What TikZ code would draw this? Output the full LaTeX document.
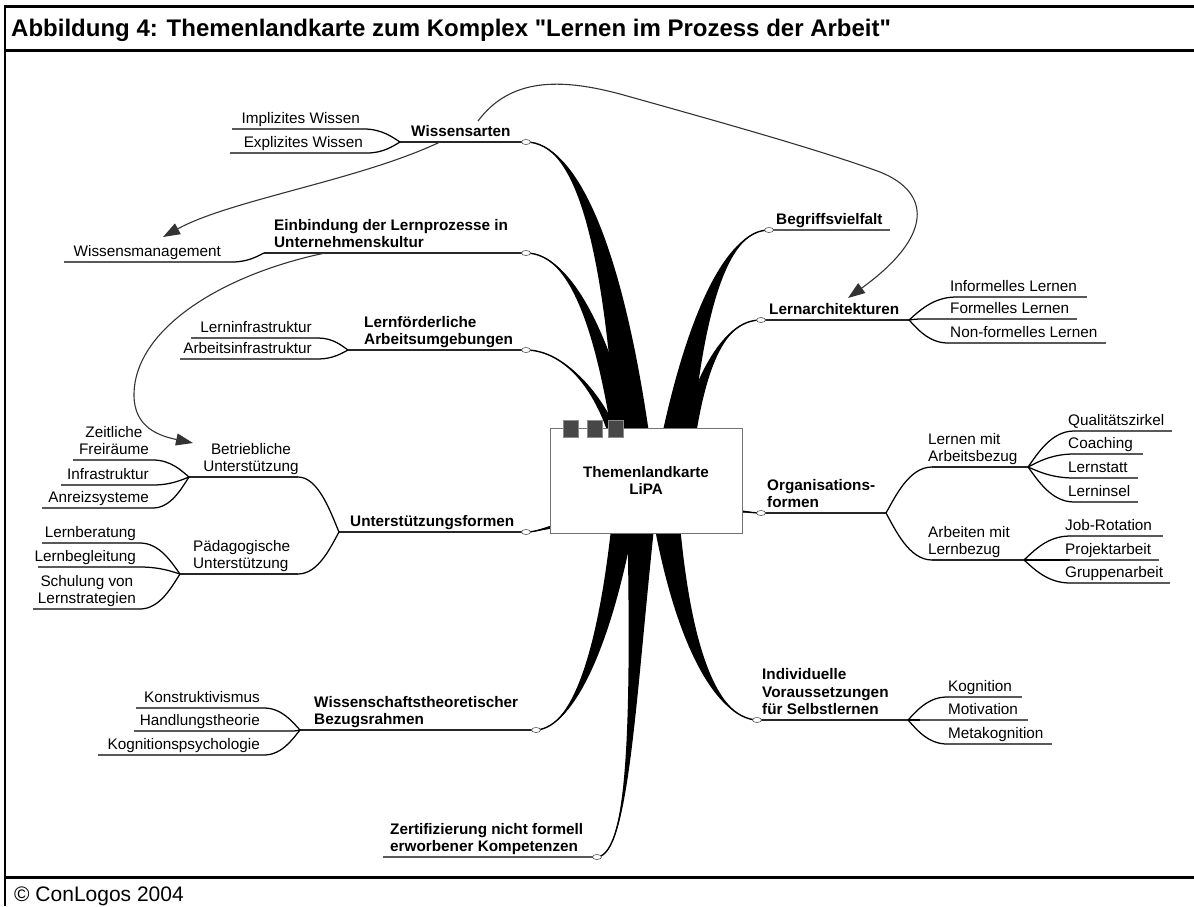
\documentclass[tikz,border=0pt]{standalone}
\usepackage{fontspec}
\setmainfont{Liberation Sans}
\usetikzlibrary{calc,arrows.meta,shapes.geometric}

\tikzset{
  lbl/.style={inner sep=0pt, align=center, text depth=3.3pt, font=\fontsize{15.3}{17.5}\selectfont},
  mlbl/.style={lbl, align=left, font=\bfseries\fontsize{15.3}{17.5}\selectfont},
  subline/.style={line width=1.8pt, black!65},
  mainline/.style={line width=1.3pt, black!85},
  lk/.style={line width=1.25pt, black},
  mk/.style={ellipse, draw=black!70, fill=white, line width=0.6pt, minimum width=9pt, minimum height=5pt, inner sep=0pt},
  ar/.style={line width=1.1pt, black!80, -{Triangle[length=17pt,width=12pt]}},
  br/.style={fill=black},
  frameline/.style={line width=3pt, black}
}

% tapered main branch: marker, c1, c2, root, half-width at root, half-width at c2
\newcommand\mbr[6]{%
  \fill[br] (#1) .. controls (#2) and ($(#3)+(#6)$) .. ($(#4)+(#5)$) -- ($(#4)-(#5)$) .. controls ($(#3)-(#6)$) and (#2) .. (#1) -- cycle;
  \draw[line width=1.4pt] (#1) .. controls (#2) and (#3) .. (#4);}

% curve from a child end (horizontal) to a fork
\newcommand\lnk[2]{\draw[lk] let \p1=(#1), \p2=(#2) in (\p1) .. controls ({0.5*\x1+0.5*\x2},\y1) and ({0.2*\x1+0.8*\x2},{0.35*\y1+0.65*\y2}) .. (\p2);}

% left-side leaf: [text offset]{name}{text}{xL}{xR}{y}
\newcommand\leafL[6][4]{%
  \coordinate (#2a) at (#4,#6); \coordinate (#2b) at (#5,#6);
  \draw[subline] (#2a) -- (#2b);
  \node[lbl, anchor=south east] (#2) at ($(#2b)+(-#1,-2)$) {#3};}

% right-side leaf: [text offset]{name}{text}{xL}{xR}{y}
\newcommand\leafR[6][-3]{%
  \coordinate (#2a) at (#4,#6); \coordinate (#2b) at (#5,#6);
  \draw[subline] (#2a) -- (#2b);
  \node[lbl, anchor=south west] (#2) at ($(#2a)+(#1,-2)$) {#3};}

\begin{document}
\begin{tikzpicture}[x=1pt,y=-1pt]
\useasboundingbox (0,0) rectangle (1194,906);

% ---------- frame ----------
\draw[frameline] (5,6) -- (1194,6);
\draw[frameline] (5,50.5) -- (1194,50.5);
\draw[frameline] (5,877) -- (1194,877);
\draw[line width=2pt] (5,5) -- (5,906);
\node[anchor=base west, inner sep=0pt, font=\bfseries\fontsize{24}{28}\selectfont] (title) at (11,36)
  {Abbildung 4: Themenlandkarte zum Komplex \textquotedbl Lernen im Prozess der Arbeit\textquotedbl};
\node[anchor=base west, inner sep=0pt, font=\fontsize{21}{25}\selectfont] (copy) at (14,901) {© ConLogos 2004};

% ---------- marker positions ----------
\coordinate (mWiss) at (526,142);
\coordinate (mEinb) at (526,253);
\coordinate (mLern) at (526,350);
\coordinate (mUnt)  at (526,532);
\coordinate (mWth)  at (536,730);
\coordinate (mZert) at (597,857);
\coordinate (mBeg)  at (769,230);
\coordinate (mArch) at (761,320);
\coordinate (mOrg)  at (761,513);
\coordinate (mInd)  at (757,720);

% ---------- main tapered branches ----------
\mbr{mWiss}{575,142}{615,240}{636,470}{18,0}{10,0}
\mbr{mEinb}{570,253}{605,330}{630,470}{13,0}{7,0}
\mbr{mLern}{565,350}{605,395}{622,460}{7,0}{3,0}
\mbr{mBeg}{725,230}{692,320}{672,470}{17,0}{9,0}
\mbr{mArch}{720,320}{697,380}{680,470}{11,0}{5,0}
\mbr{mWth}{575,728}{608,640}{626,500}{12,0}{7,0}
\mbr{mZert}{630,855}{633,700}{642,500}{15,0}{2,0}
\mbr{mInd}{715,718}{680,640}{664,500}{14,0}{8,0}
\mbr{mUnt}{538,532}{545,527}{565,525}{0,2.5}{0,1.5}
\mbr{mOrg}{752,513}{745,511}{730,511}{0,2}{0,1}

% ---------- central box ----------
\node[draw=black!55, fill=white, line width=1pt, minimum width=192pt, minimum height=105pt,
      align=center, font=\bfseries\fontsize{15.2}{17.5}\selectfont] (ctr) at (646,480.5) {Themenlandkarte\\LiPA};
\foreach \x/\n in {570.5/1,594.5/2,616/3}
  \node[draw=black!45, fill=black!72, minimum width=15pt, minimum height=17pt, inner sep=0pt] (sq\n) at (\x,428.5) {};

% ---------- Wissensarten ----------
\coordinate (fWiss) at (400,142);
\draw[mainline] (fWiss) -- (mWiss);
\node[mlbl, anchor=south west] (wiss) at (411,140) {Wissensarten};
\leafL{impl}{Implizites Wissen}{232}{364}{129}
\leafL{expl}{Explizites Wissen}{230}{367}{153}
\lnk{implb}{fWiss}
\lnk{explb}{fWiss}

% ---------- Einbindung ----------
\coordinate (fEinb) at (264,253);
\draw[mainline] (fEinb) -- (mEinb);
\node[mlbl, anchor=south west] (einb) at (274,251) {Einbindung der Lernprozesse in\\Unternehmenskultur};
\leafL[11]{wm}{Wissensmanagement}{64}{232}{262}
\lnk{wmb}{fEinb}

% ---------- Lernfoerderliche ----------
\coordinate (fLern) at (348,350);
\draw[mainline] (fLern) -- (mLern);
\node[mlbl, anchor=south west] (lern) at (364,348) {Lernförderliche\\Arbeitsumgebungen};
\leafL[6]{linf}{Lerninfrastruktur}{191}{318}{338}
\leafL[6]{ainf}{Arbeitsinfrastruktur}{180}{318}{359}
\lnk{linfb}{fLern}
\lnk{ainfb}{fLern}

% ---------- Unterstuetzungsformen ----------
\coordinate (fUnt) at (339,532);
\draw[mainline] (fUnt) -- (mUnt);
\node[mlbl, anchor=south west] (unt) at (350,530) {Unterstützungsformen};

\coordinate (fBet) at (189,477); \coordinate (eBet) at (298,477);
\draw[mainline] (fBet) -- (eBet);
\lnk{eBet}{fUnt}
\node[lbl, anchor=south] (bet) at (251,475) {Betriebliche\\Unterstützung};
\leafL{zeit}{Zeitliche\\Freiräume}{73}{153}{460}
\leafL{infra}{Infrastruktur}{61}{153}{485}
\leafL{anr}{Anreizsysteme}{42}{153}{508}
\lnk{zeitb}{fBet}
\lnk{infrab}{fBet}
\lnk{anrb}{fBet}

\coordinate (fPad) at (180,574); \coordinate (ePad) at (298,574);
\draw[mainline] (fPad) -- (ePad);
\lnk{ePad}{fUnt}
\node[lbl, align=left, anchor=south west] (pad) at (193,572) {Pädagogische\\Unterstützung};
\leafL{lb}{Lernberatung}{42}{140}{543}
\leafL{lbg}{Lernbegleitung}{38}{140}{567}
\leafL{sch}{Schulung von\\Lernstrategien}{33}{140}{609}
\lnk{lbb}{fPad}
\lnk{lbgb}{fPad}
\lnk{schb}{fPad}

% ---------- Wissenschaftstheoretischer Bezugsrahmen ----------
\coordinate (fWth) at (300,730);
\draw[mainline] (fWth) -- (mWth);
\node[mlbl, anchor=south west] (wth) at (314,728) {Wissenschaftstheoretischer\\Bezugsrahmen};
\leafL{kon}{Konstruktivismus}{136}{264}{708}
\leafL[32]{hand}{Handlungstheorie}{134}{292}{731}
\leafL{kog}{Kognitionspsychologie}{98}{264}{755}
\lnk{konb}{fWth}
\lnk{handb}{fWth}
\lnk{kogb}{fWth}

% ---------- Zertifizierung ----------
\coordinate (zA) at (383,857);
\draw[subline] (zA) -- (mZert);
\node[mlbl, anchor=south west] (zert) at (390,855) {Zertifizierung nicht formell\\erworbener Kompetenzen};

% ---------- Begriffsvielfalt ----------
\coordinate (bE) at (890,230);
\draw[subline] (mBeg) -- (bE);
\node[mlbl, anchor=south west] (beg) at (776,228) {Begriffsvielfalt};

% ---------- Lernarchitekturen ----------
\coordinate (fArch) at (909,320);
\draw[mainline] (mArch) -- (fArch);
\node[mlbl, anchor=south west] (arch) at (769,318) {Lernarchitekturen};
\leafR[-6]{inf}{Informelles Lernen}{956}{1087}{297}
\leafR[28]{form}{Formelles Lernen}{922}{1077}{319}
\leafR[2]{nonf}{Non-formelles Lernen}{948}{1106}{343}
\lnk{infa}{fArch}
\lnk{forma}{fArch}
\lnk{nonfa}{fArch}

% ---------- Organisationsformen ----------
\coordinate (fOrg) at (886,513);
\draw[mainline] (mOrg) -- (fOrg);
\node[mlbl, anchor=south west] (org) at (767,511) {Organisations-\\formen};

\coordinate (sLmA) at (932,467); \coordinate (fLmA) at (1028,467);
\draw[mainline] (sLmA) -- (fLmA);
\lnk{sLmA}{fOrg}
\node[lbl, align=left, anchor=south west] (lma) at (928,465) {Lernen mit\\Arbeitsbezug};
\leafR[-6]{qz}{Qualitätszirkel}{1074}{1172}{431}
\leafR[-6]{coa}{Coaching}{1074}{1143}{454}
\leafR[-6]{lst}{Lernstatt}{1074}{1138}{478}
\leafR[-6]{lin}{Lerninsel}{1074}{1138}{502}
\lnk{qza}{fLmA}
\lnk{coaa}{fLmA}
\lnk{lsta}{fLmA}
\lnk{lina}{fLmA}

\coordinate (sAmL) at (932,560); \coordinate (fAmL) at (1024,560);
\draw[mainline] (sAmL) -- (fAmL);
\lnk{sAmL}{fOrg}
\node[lbl, align=left, anchor=south west] (aml) at (928,558) {Arbeiten mit\\Lernbezug};
\leafR[-5]{job}{Job-Rotation}{1070}{1163}{536}
\leafR[-5]{proj}{Projektarbeit}{1070}{1159}{560}
\leafR[-5]{grp}{Gruppenarbeit}{1070}{1170}{583}
\lnk{joba}{fAmL}
\lnk{proja}{fAmL}
\lnk{grpa}{fAmL}

% ---------- Individuelle Voraussetzungen ----------
\coordinate (fInd) at (908,720);
\draw[mainline] (mInd) -- (fInd);
\node[mlbl, anchor=south west] (ind) at (762,718) {Individuelle\\Voraussetzungen\\für Selbstlernen};
\leafR[1]{kgn}{Kognition}{947}{1022}{697}
\leafR[28]{mot}{Motivation}{920}{1028}{720}
\leafR[1]{meta}{Metakognition}{947}{1052}{744}
\lnk{kgna}{fInd}
\lnk{mota}{fInd}
\lnk{metaa}{fInd}

% ---------- markers ----------
\foreach \m in {mWiss,mEinb,mLern,mUnt,mWth,mZert,mBeg,mArch,mOrg,mInd}
  \node[mk] (k\m) at (\m) {};

% ---------- cross-link arrows ----------
\coordinate (a1s) at (440,142);
\coordinate (a1e) at (163,237);
\draw[ar] (a1s) .. controls (360,180) and (230,200) .. (a1e);

\coordinate (a2s) at (325,253);
\coordinate (a2e) at (193,443);
\draw[ar] (a2s) .. controls (220,275) and (134,330) .. (134,395) .. controls (134,428) and (160,436) .. (a2e);

\coordinate (a3s) at (478,121);
\coordinate (a3e) at (848,298);
\draw[ar] (a3s) .. controls (510,78) and (560,78) .. (620,94) .. controls (720,122) and (820,150) .. (880,172) .. controls (930,192) and (935,235) .. (a3e);

\end{tikzpicture}
\end{document}
